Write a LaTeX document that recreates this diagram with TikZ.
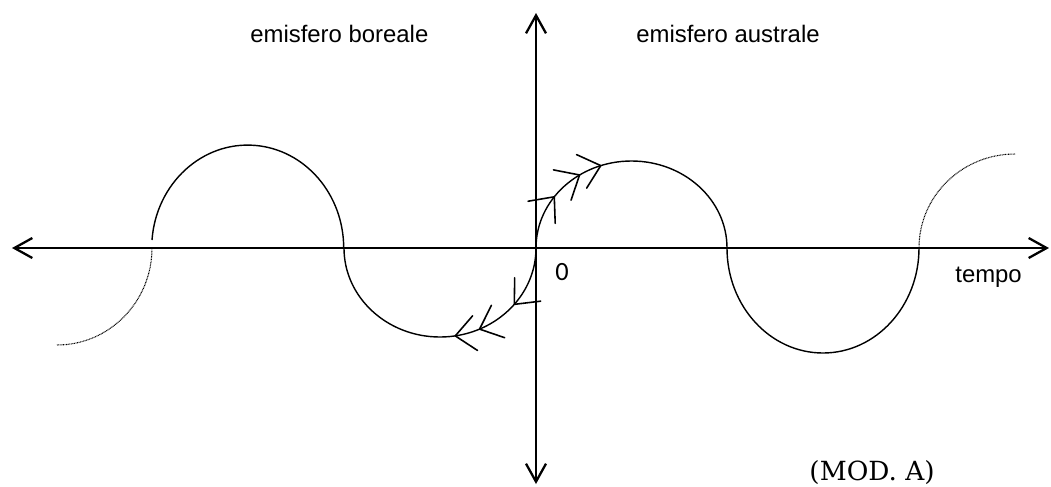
\documentclass[tikz,border=0pt]{standalone}
\usepackage{fontspec}
\setmainfont{Liberation Sans}
\newfontfamily\modfont{DejaVu Serif}
\newfontfamily\zerofont{Carlito}
\usetikzlibrary{arrows.meta,decorations.markings}

\tikzset{
  axis/.style={line width=1.3pt,
    {Straight Barb[length=3.6mm,width=4mm]}-{Straight Barb[length=3.6mm,width=4mm]}},
  wave/.style={line width=0.8pt},
  fade/.style={line width=0.6pt, dash pattern=on 0.5pt off 0.4pt},
  lbl/.style={inner sep=0pt, font=\fontsize{13.6}{16}\selectfont},
  barb/.tip={Straight Barb[length=4mm,width=7mm,line width=0.9pt,round]},
  flow/.style n args={3}{postaction={decorate}, decoration={markings,
      mark=at position #1 with {\arrow{barb}},
      mark=at position #2 with {\arrow{barb}},
      mark=at position #3 with {\arrow{barb}}}}
}

\begin{document}
\begin{tikzpicture}
  \useasboundingbox (-10.72,-4.76) rectangle (10.30,4.96);

  % axes
  \coordinate (o) at (0,0);
  \coordinate (west) at (-10.48,0);
  \coordinate (east) at (10.26,0);
  \coordinate (north) at (0,4.70);
  \coordinate (south) at (0,-4.72);
  \draw[axis] (west) -- (east);
  \draw[axis] (south) -- (north);

  % the wave
  \draw[fade] (-7.68,0) arc[start angle=0, end angle=-90, x radius=1.9, y radius=1.94];
  \draw[wave] (-7.68,0.16) arc[start angle=175.5, end angle=0, x radius=1.92, y radius=2.06];
  \draw[wave, flow={0.215}{0.363}{0.45}] (o) arc[start angle=0, end angle=-180, x radius=1.92, y radius=1.78];
  \draw[wave, flow={0.196}{0.313}{0.394}] (o) arc[start angle=180, end angle=0, x radius=1.91, y radius=1.74];
  \draw[wave] (3.82,0) arc[start angle=180, end angle=360, x radius=1.92, y radius=2.1];
  \draw[fade] (7.66,0) arc[start angle=180, end angle=90, x radius=1.92, y radius=1.88];

  % labels
  \node[lbl, anchor=base west] (boreale) at (-5.72,4.12) {emisfero boreale};
  \node[lbl, anchor=base west] (australe) at (2.0,4.12) {emisfero australe};
  \node[inner sep=0pt, anchor=base west, font=\zerofont\fontsize{15}{18}\selectfont] (zero) at (0.38,-0.64) {0};
  \node[lbl, anchor=base west] (tempo) at (8.38,-0.68) {tempo};
  \node[inner sep=0pt, anchor=base east, font=\modfont\fontsize{15}{18}\selectfont] (mod) at (7.98,-4.64) {(MOD. A)};
\end{tikzpicture}
\end{document}
